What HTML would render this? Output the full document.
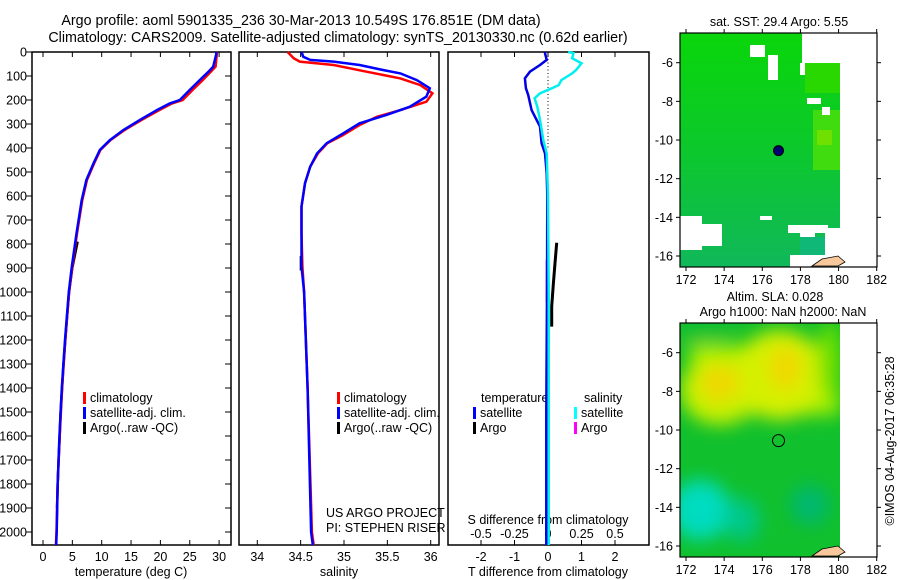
<!DOCTYPE html>
<html><head><meta charset="utf-8"><style>
html,body{margin:0;padding:0;background:#fff}
svg{display:block;font-family:"Liberation Sans",sans-serif}
text{font-size:12.5px;fill:#000}
</style></head><body>
<svg id="fig" width="900" height="580" viewBox="0 0 900 580" xmlns="http://www.w3.org/2000/svg">
<defs>
<clipPath id="clipM1"><rect x="680" y="33" width="197" height="234"/></clipPath>
<clipPath id="clipM2"><rect x="680" y="323" width="197" height="234"/></clipPath>
<filter id="blur" x="-50%" y="-50%" width="200%" height="200%"><feGaussianBlur stdDeviation="9"/></filter>
<linearGradient id="g1" x1="0" y1="0" x2="0" y2="1"><stop offset="0" stop-color="#0ad60a"/><stop offset="0.5" stop-color="#0cc82c"/><stop offset="1" stop-color="#10b85a"/></linearGradient>
</defs>
<text x="301" y="25" text-anchor="middle" style="font-size:14.3px">Argo profile: aoml 5901335_236 30-Mar-2013 10.549S 176.851E (DM data)</text>
<text x="338" y="42" text-anchor="middle" style="font-size:14.3px">Climatology: CARS2009. Satellite-adjusted climatology: synTS_20130330.nc (0.62d earlier)</text>
<g id="axes"></g>
<g id="marks"></g>
<g id="maps"></g>
</svg>
<script>
// ---- data ----
const tDepth=[0,10,61,82,117,158,200,214,242,283,325,367,408,464,533,617,756,894,1000,1200,1400,1603,1796,2000,2054];
const tSat=[29.5,29.5,29.0,28.2,26.7,25.0,23.3,21.6,19.4,16.5,13.7,11.4,9.7,8.6,7.4,6.6,5.7,4.9,4.4,3.75,3.2,2.8,2.5,2.33,2.25];
const tClim=[29.6,29.6,29.4,28.6,27.2,25.5,23.8,22.0,19.8,16.8,13.9,11.5,9.8,8.7,7.5,6.7,5.8,5.0,4.45,3.8,3.25,2.85,2.5,2.3,2.2];
const argoDepth=[790,900,1000,1100,1200,1300,1400,1500,1600,1700,1800,1900];
const tArgo=[5.9,5.0,4.45,4.1,3.8,3.5,3.25,3.0,2.85,2.65,2.5,2.38];
const sDepth=[0,20,33,40,54,75,89,117,151,186,228,262,297,339,380,422,478,547,644,756,894,1000,1400,2000,2054];
const sSat=[34.51,34.53,34.61,34.88,35.18,35.45,35.65,35.84,35.99,35.95,35.76,35.49,35.18,34.99,34.80,34.69,34.61,34.55,34.51,34.51,34.51,34.54,34.58,34.62,34.64];
const sClimDepth=[0,26,40,54,82,110,138,172,207,242,270,304,346,380,422,478,547,644,756,894,1000,1400,2000,2054];
const sClim=[34.35,34.42,34.49,34.88,35.26,35.65,35.88,36.02,35.95,35.65,35.38,35.18,34.99,34.81,34.70,34.61,34.55,34.51,34.51,34.52,34.54,34.58,34.63,34.65];
const sArgoDepth=[850,870,890,910];
const sArgo=[34.5,34.5,34.5,34.5];
const dDepth=[0,5,33,54,82,110,151,179,242,283,311,380,422,505,600,1000,1500,2054];
const dTSat=[-0.09,-0.09,-0.04,-0.24,-0.54,-0.69,-0.66,-0.59,-0.49,-0.34,-0.24,-0.19,-0.09,-0.04,-0.02,-0.03,-0.05,-0.05];
const dsDepth=[0,5,26,47,75,89,117,138,151,172,193,228,283,367,422,600,1000,2054];
const dSSat=[0.15,0.19,0.18,0.25,0.21,0.18,0.10,0.08,0.03,-0.06,-0.10,-0.08,-0.06,-0.035,-0.01,0.0,0.005,0.005];
const dArgoDepth=[795,880,963,1060,1144];
const dTArgo=[0.26,0.21,0.16,0.11,0.11];
const dSArgoDepth=[867,950,1046];
const dSArgo=[-0.01,-0.01,-0.01];
const depthTicks=[0,100,200,300,400,500,600,700,800,900,1000,1100,1200,1300,1400,1500,1600,1700,1800,1900,2000];
const tTicks=[0,5,10,15,20,25,30];
const sTicks=[34,34.5,35,35.5,36];
const sTickLabels=["34","34.5","35","35.5","36"];
const dTTicks=[-2,-1,0,1,2];
const dSTicks=[-0.5,-0.25,0,0.25,0.5];
const dSTickLabels=["-0.5","-0.25","0","0.25","0.5"];
const lonTicks=[172,174,176,178,180,182];
const latTicks=[-6,-8,-10,-12,-14,-16];
const argoLon=176.851, argoLat=-10.549;

// ---- scales ----
const yD=d=>52+d*0.24;
const xT=t=>43+t*5.87;
const xS=s=>257.3+(s-34)*86.7;
const xDT=t=>548+t*33.5;
const xDS=s=>548+s*134;
const mLon=l=>686+(l-172)*19.07;
const mLat1=l=>62.7+(-6-l)*19.33;
const mLat2=l=>352.7+(-6-l)*19.33;

const NS="http://www.w3.org/2000/svg";
function mk(tag,attrs,parent,txt){const e=document.createElementNS(NS,tag);for(const k in attrs)e.setAttribute(k,attrs[k]);if(txt!==undefined)e.textContent=txt;parent.appendChild(e);return e;}
const axes=document.getElementById('axes'), marks=document.getElementById('marks'), maps=document.getElementById('maps');

function frame(x0,x1,y0,y1,name){const r=mk('rect',{x:x0,y:y0,width:x1-x0,height:y1-y0,fill:'none',stroke:'#000','stroke-width':1.5},axes);

}
frame(32,231,52,545,'temperature-panel-frame');
frame(239,439,52,545,'salinity-panel-frame');
frame(448,649,52,545,'difference-panel-frame');

depthTicks.forEach(d=>{const y=yD(d);
 mk('line',{x1:26,x2:32,y1:y,y2:y,stroke:'#000'},axes);
 mk('line',{x1:225,x2:231,y1:y,y2:y,stroke:'#000'},axes);
 const t=mk('text',{x:27,y:y+4.5,'text-anchor':'end'},axes,String(d));
 
 
});
function xticks(vals,fx,labels,ly){vals.forEach((v,i)=>{const x=fx(v);
 mk('line',{x1:x,x2:x,y1:52,y2:57,stroke:'#000'},axes);
 mk('line',{x1:x,x2:x,y1:540,y2:545,stroke:'#000'},axes);
 if(labels){const t=mk('text',{x:x,y:ly,'text-anchor':'middle'},axes,labels[i]);
 
 }});}
xticks(tTicks,xT,tTicks.map(String),561);
xticks(sTicks,xS,sTickLabels,561);
xticks(dTTicks,xDT,dTTicks.map(String),561);
dSTicks.forEach((v,i)=>{const t=mk('text',{x:xDS(v),y:538,'text-anchor':'middle'},axes,dSTickLabels[i]);
 
 });
[['temperature (deg C)',131,'temperature-axis-title'],['salinity',339,'salinity-axis-title'],['T difference from climatology',548,'t-diff-axis-title']].forEach(a=>{
 const t=mk('text',{x:a[1],y:576,'text-anchor':'middle'},axes,a[0]);
 
 });
{const t=mk('text',{x:548,y:524,'text-anchor':'middle'},axes,'S difference from climatology');
 
 }
mk('line',{x1:548,x2:548,y1:52,y2:150,stroke:'#000','stroke-dasharray':'1,2.5'},axes);

function line(xs,ys,fx,name,color,w){const pts=xs.map((v,i)=>fx(v).toFixed(1)+','+yD(ys[i]).toFixed(1)).join(' ');
 const p=mk('polyline',{points:pts,fill:'none',stroke:color,'stroke-width':w||2.5},marks);
 
 }
line(tArgo,argoDepth,xT,'temperature-argo-line','#000',2.5);
line(tClim,tDepth,xT,'temperature-climatology-line','#f00');
line(tSat,tDepth,xT,'temperature-satellite-line','#00f');
line(sArgo,sArgoDepth,xS,'salinity-argo-line','#000',2);
line(sClim,sClimDepth,xS,'salinity-climatology-line','#f00');
line(sSat,sDepth,xS,'salinity-satellite-line','#00f');
line(dTArgo,dArgoDepth,xDT,'t-diff-argo-line','#000',3);
line(dSArgo,dSArgoDepth,xDS,'s-diff-argo-line','#f0f',2);
line(dTSat,dDepth,xDT,'t-diff-satellite-line','#0000e0');
line(dSSat,dsDepth,xDS,'s-diff-satellite-line','#00f0f0');

function leg(x,y,color,label,name){mk('rect',{x:x,y:y-10,width:3,height:12,fill:color},axes);
 const t=mk('text',{x:x+7,y:y},axes,label);
 
 }
leg(83,402,'#f00','climatology','legend-climatology');
leg(83,417,'#00f','satellite-adj. clim.','legend-satellite-adj');
leg(83,432,'#000','Argo(..raw -QC)','legend-argo');
leg(337,402,'#f00','climatology','legend-climatology-2');
leg(337,417,'#00f','satellite-adj. clim.','legend-satellite-adj-2');
leg(337,432,'#000','Argo(..raw -QC)','legend-argo-2');
{const t=mk('text',{x:481,y:402},axes,'temperature');}
{const t=mk('text',{x:584,y:402},axes,'salinity');}
leg(473,417,'#00f','satellite','legend-t-satellite');
leg(473,432,'#000','Argo','legend-t-argo');
leg(574,417,'#0ff','satellite','legend-s-satellite');
leg(574,432,'#f0f','Argo','legend-s-argo');
{const t=mk('text',{x:326,y:517},axes,'US ARGO PROJECT');}
{const t=mk('text',{x:326,y:532},axes,'PI: STEPHEN RISER');}

function mapAxes(top,bot,fy,name){
 const r=mk('rect',{x:680,y:top,width:197,height:bot-top,fill:'none',stroke:'#000','stroke-width':1.2},maps);
 
 
 latTicks.forEach(l=>{const y=fy(l);mk('line',{x1:676,x2:680,y1:y,y2:y,stroke:'#000'},maps);mk('line',{x1:877,x2:881,y1:y,y2:y,stroke:'#000'},maps);
  const t=mk('text',{x:673,y:y+4.5,'text-anchor':'end'},maps,String(l));});
 lonTicks.forEach(l=>{const x=mLon(l);mk('line',{x1:x,x2:x,y1:top-4,y2:top,stroke:'#000'},maps);mk('line',{x1:x,x2:x,y1:bot,y2:bot+4,stroke:'#000'},maps);
  const t=mk('text',{x:x,y:bot+17,'text-anchor':'middle'},maps,String(l));});
}
const g1=mk('g',{'clip-path':'url(#clipM1)'},maps);


mk('rect',{x:680,y:33,width:160,height:234,fill:'url(#g1)'},g1);
mk('rect',{x:813,y:110,width:27,height:60,fill:'#40dc10'},g1);
mk('rect',{x:817,y:130,width:15,height:15,fill:'#70e000'},g1);
mk('rect',{x:805,y:63,width:35,height:30,fill:'#28d800'},g1);
mk('rect',{x:802,y:33,width:40,height:30,fill:'#fff'},g1);
mk('rect',{x:800,y:63,width:5,height:12,fill:'#fff'},g1);
mk('rect',{x:750,y:45,width:15,height:12,fill:'#fff'},g1);
mk('rect',{x:768,y:55,width:10,height:25,fill:'#fff'},g1);
mk('rect',{x:807,y:98,width:14,height:6,fill:'#fff'},g1);
mk('rect',{x:822,y:107,width:8,height:8,fill:'#fff'},g1);
mk('rect',{x:680,y:216,width:22,height:34,fill:'#fff'},g1);
mk('rect',{x:702,y:224,width:20,height:22,fill:'#fff'},g1);
mk('rect',{x:760,y:216,width:12,height:4,fill:'#fff'},g1);
mk('rect',{x:788,y:225,width:40,height:8,fill:'#fff'},g1);
mk('rect',{x:800,y:233,width:15,height:5,fill:'#fff'},g1);
mk('rect',{x:800,y:237,width:29,height:22,fill:'#10b878'},g1);
mk('rect',{x:825,y:228,width:15,height:39,fill:'#fff'},g1);
mk('rect',{x:790,y:255,width:35,height:12,fill:'#fff'},g1);
mk('path',{d:'M812 266 L822 259 L838 256 L845 262 L838 266 Z',fill:'#f8c89c',stroke:'#000','stroke-width':0.8},g1);
const c1=mk('circle',{cx:mLon(argoLon),cy:mLat1(argoLat),r:5,fill:'#00006e',stroke:'#000'},maps);


mapAxes(33,267,mLat1,'sst-map-frame');
{const t=mk('text',{x:779,y:26,'text-anchor':'middle'},maps,'sat. SST: 29.4 Argo: 5.55');}

const g2=mk('g',{'clip-path':'url(#clipM2)'},maps);


mk('rect',{x:680,y:323,width:160,height:234,fill:'#10c02c'},g2);
const gb=mk('g',{filter:'url(#blur)'},g2);
mk('rect',{x:690,y:345,width:150,height:70,fill:'#a8f000'},gb);
mk('ellipse',{cx:720,cy:390,rx:40,ry:35,fill:'#c8f000'},gb);
mk('ellipse',{cx:780,cy:375,rx:45,ry:45,fill:'#d4f000'},gb);
mk('ellipse',{cx:720,cy:383,rx:20,ry:18,fill:'#f0d800'},gb);
mk('ellipse',{cx:785,cy:368,rx:16,ry:22,fill:'#f0d800'},gb);
mk('ellipse',{cx:703,cy:330,rx:30,ry:12,fill:'#10c030'},gb);
mk('ellipse',{cx:830,cy:360,rx:12,ry:40,fill:'#70e000'},gb);
mk('ellipse',{cx:700,cy:510,rx:30,ry:30,fill:'#00dcc0'},gb);
mk('ellipse',{cx:742,cy:520,rx:18,ry:22,fill:'#00c888'},gb);
mk('ellipse',{cx:810,cy:505,rx:20,ry:20,fill:'#00b870'},gb);
mk('rect',{x:840,y:323,width:40,height:234,fill:'#fff'},g2);
mk('path',{d:'M812 556 L822 549 L838 546 L845 552 L838 556 Z',fill:'#f8c89c',stroke:'#000','stroke-width':0.8},g2);
const c2=mk('circle',{cx:mLon(argoLon),cy:mLat2(argoLat),r:6,fill:'none',stroke:'#000'},maps);


mapAxes(323,557,mLat2,'sla-map-frame');
{const t=mk('text',{x:775,y:301,'text-anchor':'middle'},maps,'Altim. SLA: 0.028');}
{const t=mk('text',{x:783,y:316,'text-anchor':'middle'},maps,'Argo h1000: NaN h2000: NaN');}
{const t=mk('text',{x:0,y:0,'text-anchor':'middle',transform:'translate(894,441) rotate(-90)'},maps,'©IMOS 04-Aug-2017 06:35:28');}
</script>
</body></html>
